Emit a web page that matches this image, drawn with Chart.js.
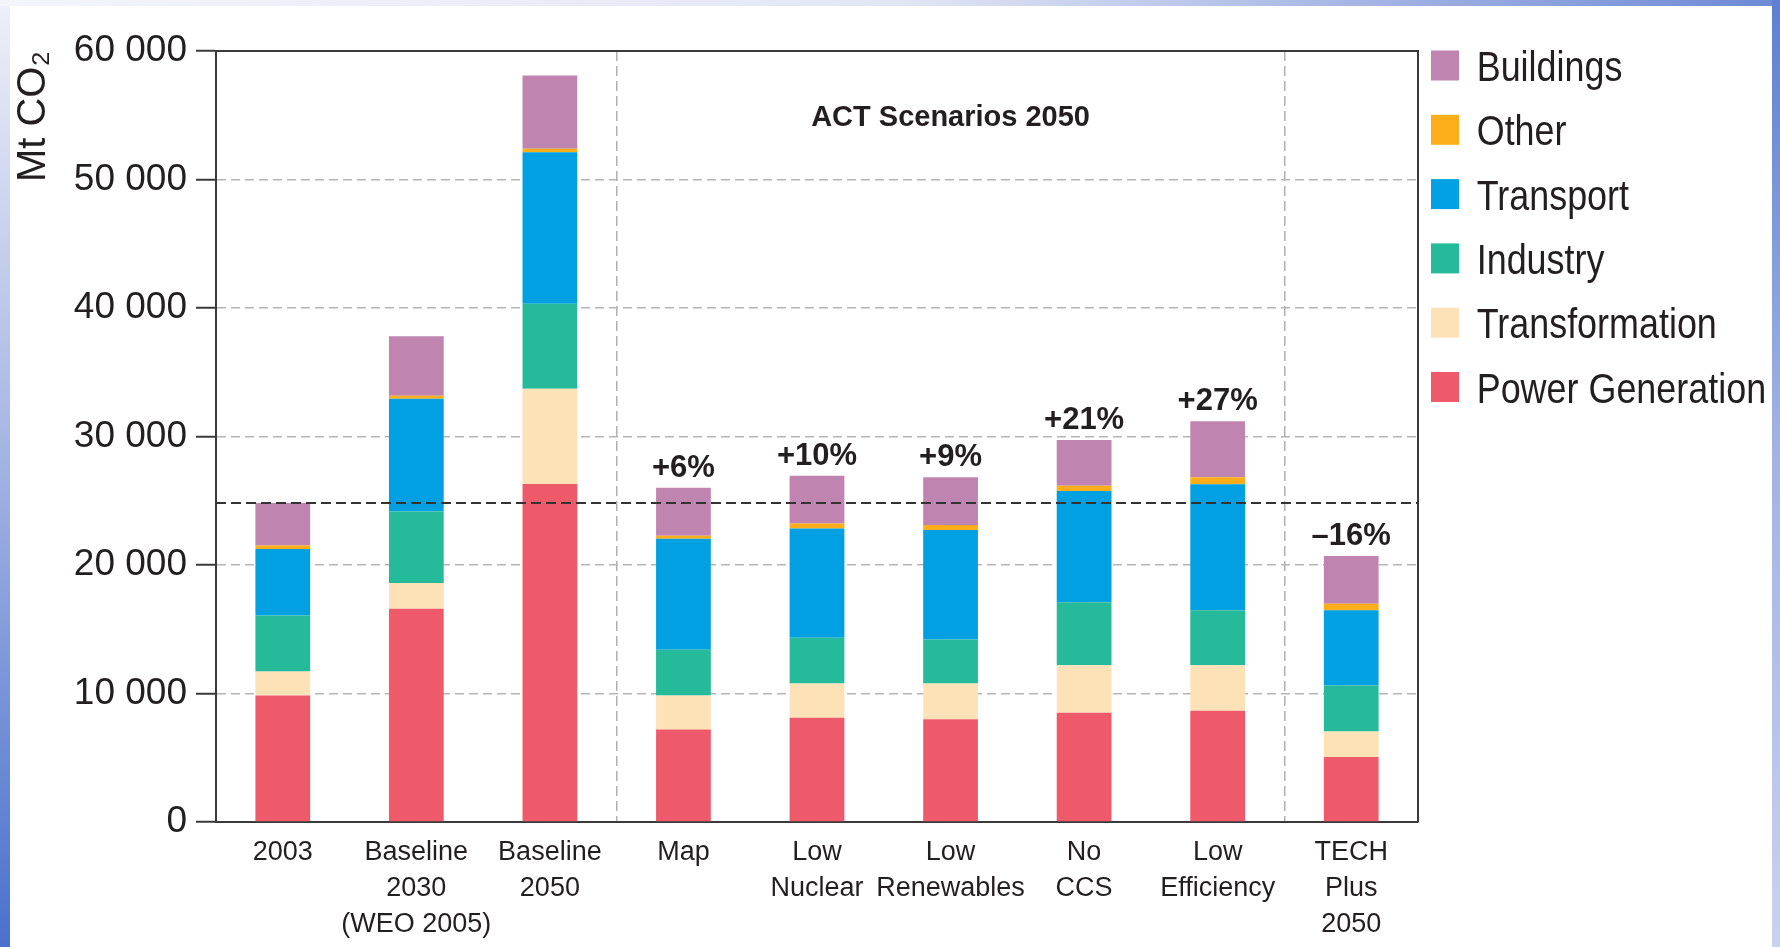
<!DOCTYPE html>
<html><head><meta charset="utf-8">
<script src="https://cdn.jsdelivr.net/npm/chart.js@4.4.0/dist/chart.umd.min.js"></script>
<style>
html,body{margin:0;padding:0;width:1780px;height:947px;overflow:hidden;background:#fff;}
#l{position:absolute;left:0;top:0;width:10px;height:947px;background:linear-gradient(#eef0f9,#a9b8e4 45%,#4a71cd);}
#t{position:absolute;left:0;top:0;width:1780px;height:6px;background:linear-gradient(90deg,#f4f5fb,#e3e7f5 50%,#6d89d5);}
#r{position:absolute;left:1772px;top:0;width:8px;height:947px;background:linear-gradient(#5e7fd2,#9fb1e3 45%,#c9d2ef);}
#wrap{position:absolute;left:10px;top:6px;width:1762px;height:941px;background:#fff;}
</style></head>
<body><div id="l"></div><div id="t"></div><div id="r"></div>
<div id="wrap"><canvas id="c" width="1762" height="941"></canvas></div>
<script>
// ---- data ----
const categories = ["2003", ["Baseline","2030","(WEO 2005)"], ["Baseline","2050"], "Map", ["Low","Nuclear"], ["Low","Renewables"], ["No","CCS"], ["Low","Efficiency"], ["TECH","Plus","2050"]];
const seriesNames = ["Power Generation","Transformation","Industry","Transport","Other","Buildings"];
const powerGeneration = [9840,16590,26300,7190,8120,8000,8510,8650,5050];
const transformation  = [1870,2000,7420,2650,2650,2770,3690,3550,2000];
const industry        = [4360,5580,6620,3560,3560,3430,4910,4280,3570];
const transport       = [5170,8770,11790,8640,8510,8520,8640,9810,5860];
const other           = [280,240,260,230,390,390,420,530,510];
const buildings       = [3300,4620,5710,3740,3720,3710,3560,4360,3720];
const changeLabels = ["","","","+6%","+10%","+9%","+21%","+27%","\u201316%"];
const groupTitle = "ACT Scenarios 2050";
const yAxisTitle = "Mt CO\u2082";
const yMin = 0, yMax = 60000, yStep = 10000;

// ---- styles ----
const seriesColors = ["#ef5a6a","#fde2b8","#25bb9a","#00a0e2","#fbae19","#c084b0"];
const REG = "'Liberation Sans',Arial,sans-serif";
const TXT = "#231f20";
const FRAME = "#3a3a3a";

const seriesData = [powerGeneration, transformation, industry, transport, other, buildings];
const datasets = seriesNames.map((n,i)=>({label:n, data:seriesData[i], backgroundColor:seriesColors[i], borderWidth:0, barPercentage:0.41, categoryPercentage:1}));
const baseTotal = seriesData.reduce((s,arr)=>s+arr[0],0);

function squeezedText(ctx, text, x, y, sx){
  ctx.save(); ctx.translate(x,y); ctx.scale(sx,1); ctx.fillText(text,0,0); ctx.restore();
}

const decor = {
  id:'decor',
  afterDatasetsDraw(chart){
    const ctx=chart.ctx, a=chart.chartArea, y=chart.scales.y;
    ctx.save();
    const py = y.getPixelForValue(baseTotal);
    ctx.strokeStyle='#333'; ctx.lineWidth=2; ctx.setLineDash([10,5]);
    ctx.beginPath(); ctx.moveTo(a.left, py); ctx.lineTo(a.right, py); ctx.stroke();
    ctx.setLineDash([]);
    ctx.strokeStyle=FRAME; ctx.lineWidth=2;
    ctx.beginPath(); ctx.moveTo(a.left-1, a.top); ctx.lineTo(a.right, a.top); ctx.lineTo(a.right, a.bottom); ctx.stroke();
    ctx.restore();
  },
  afterDraw(chart){
    const ctx=chart.ctx, a=chart.chartArea, x=chart.scales.x;
    const ds=chart.data.datasets;
    ctx.save();
    // change labels
    const topMeta = chart.getDatasetMeta(ds.length-1);
    ctx.fillStyle=TXT; ctx.textAlign='center'; ctx.textBaseline='alphabetic';
    ctx.font = "bold 31px "+REG;
    topMeta.data.forEach((el,i)=>{ if(changeLabels[i]) ctx.fillText(changeLabels[i], el.x, el.y-11); });
    // group title
    ctx.font = "bold 29px "+REG;
    ctx.fillText(groupTitle, (x.getPixelForValue(3)+x.getPixelForValue(7))/2, a.top+75);
    // legend
    ctx.textAlign='left';
    ctx.font = "43px "+REG;
    for(let k=0;k<ds.length;k++){
      const d=ds[ds.length-1-k];
      const cy=a.top+14.5+k*64.3;
      ctx.fillStyle=d.backgroundColor;
      ctx.fillRect(a.right+13, cy-15, 28, 30);
      ctx.fillStyle=TXT;
      squeezedText(ctx, d.label, a.right+58.7, cy+15.5, 0.835);
    }
    ctx.restore();
  }
};

new Chart(document.getElementById('c'), {
  type:'bar',
  data:{labels:categories, datasets},
  plugins:[decor],
  options:{
    responsive:false, animation:false, devicePixelRatio:1,
    layout:{padding:{left:0,top:45,right:354,bottom:0}},
    plugins:{legend:{display:false}, tooltip:{enabled:false}},
    scales:{
      x:{
        stacked:true,
        ticks:{color:TXT, font:{family:REG,size:27,lineHeight:1.33}, padding:13, maxRotation:0, autoSkip:false},
        grid:{color:(c)=>(c.index===3||c.index===8)?'#b0b0b0':'rgba(0,0,0,0)', lineWidth:1.5, drawTicks:false},
        border:{display:true,color:FRAME,width:2,dash:[10,5]},
        afterFit(s){s.height=125;}
      },
      y:{
        stacked:true, min:yMin, max:yMax,
        ticks:{stepSize:yStep, color:TXT, font:{family:REG,size:37}, padding:9,
          callback:(v)=>String(v).replace(/\B(?=(\d{3})+(?!\d))/g,' ')},
        grid:{color:(c)=>(c.tick&&(c.tick.value===yMin||c.tick.value===yMax))?'rgba(0,0,0,0)':'#b5b5b5', lineWidth:1.5, tickLength:20, tickColor:FRAME, tickWidth:2, tickBorderDash:[]},
        border:{display:true,color:FRAME,width:2,dash:[9,5]},
        title:{display:true,text:yAxisTitle,align:'end',color:TXT,font:{family:REG,size:40},padding:{top:0,bottom:0}},
        afterFit(s){s.width=206;}
      }
    }
  }
});
</script>
</body></html>
